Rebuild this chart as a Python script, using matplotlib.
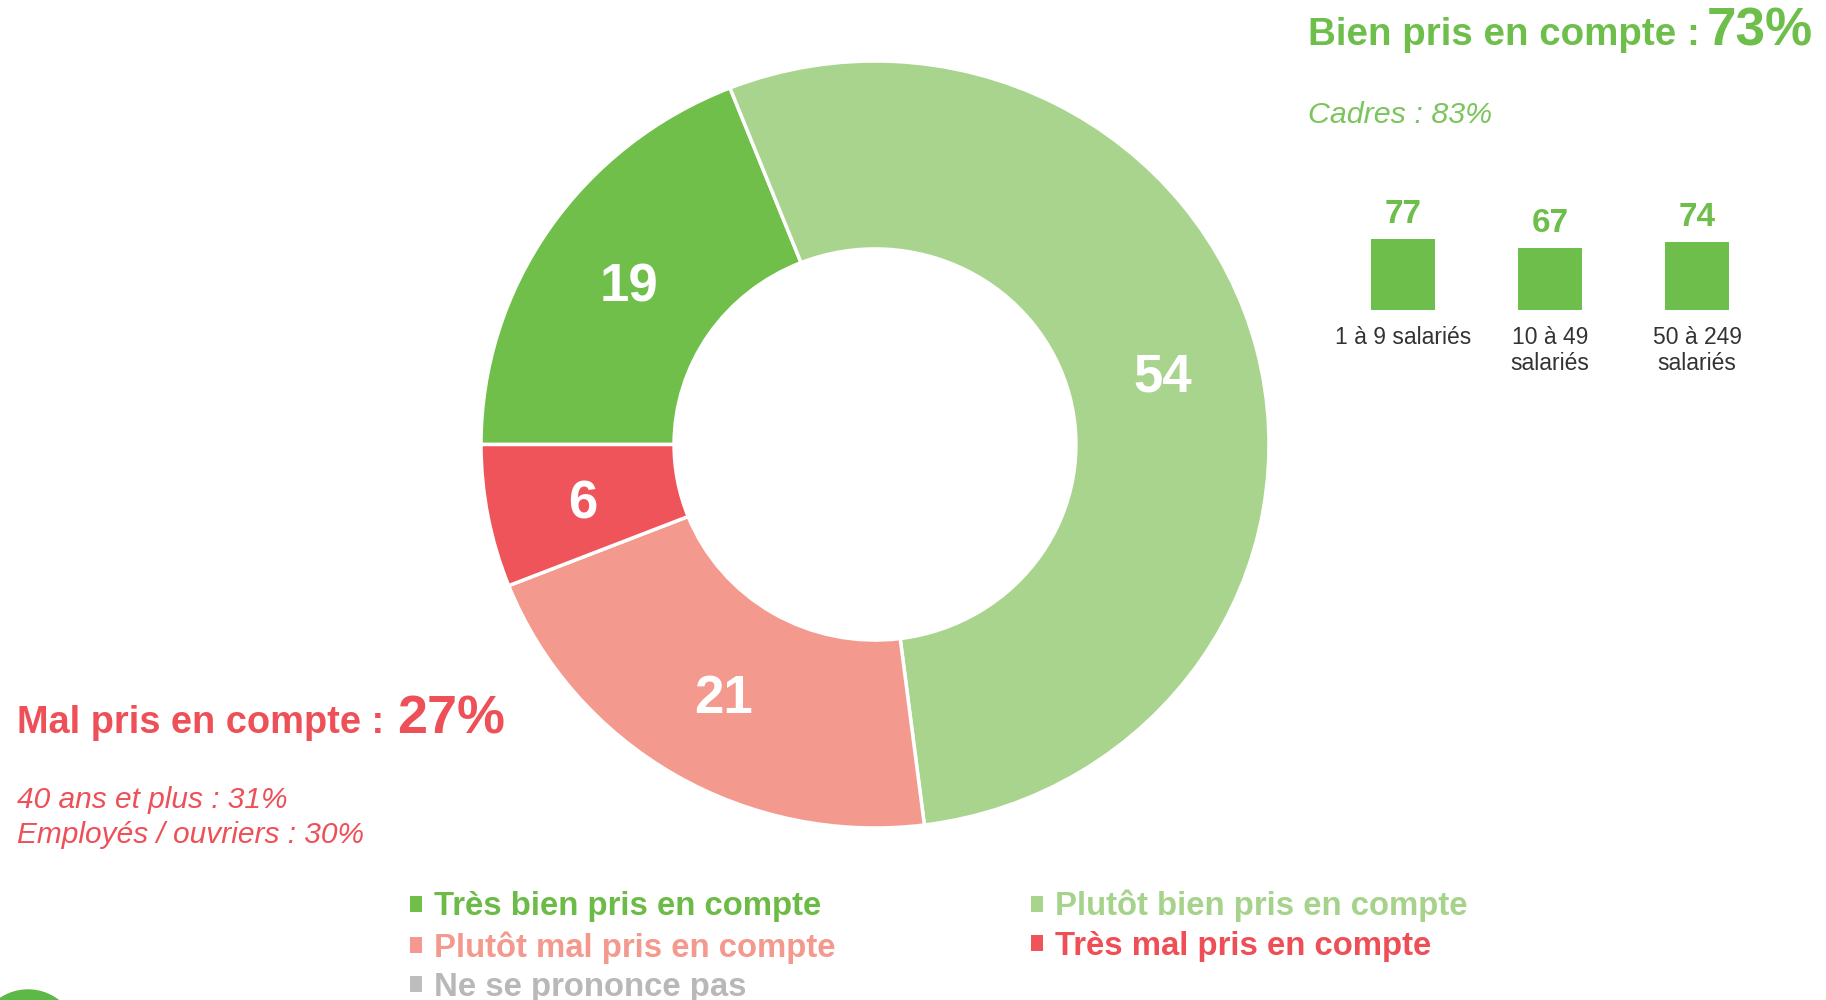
import matplotlib
matplotlib.use('Agg')
import matplotlib.pyplot as plt
from matplotlib.patches import Rectangle, Ellipse

W, H = 1826, 1000

# donut: share of answers (%)
categories = ['Très bien pris en compte', 'Plutôt bien pris en compte',
              'Plutôt mal pris en compte', 'Très mal pris en compte',
              'Ne se prononce pas']
values = [19, 54, 21, 6, 0]
colors = ['#70BF4A', '#A8D48D', '#F4998E', '#EF545A', '#BDBDBD']
text_colors = ['#6DBB47', '#A6D38B', '#F4998E', '#EE4F57', '#B8B8B8']

# "bien pris en compte" by company size
size_labels = ['1 à 9 salariés', '10 à 49\nsalariés', '50 à 249\nsalariés']
size_values = [77, 67, 74]

good_total = 73
bad_total = 27
good_note = 'Cadres : 83%'
bad_notes = ['40 ans et plus : 31%', 'Employés / ouvriers : 30%']

GREEN = '#6DBE4B'
RED = '#EE5058'

plt.rcParams['font.family'] = ['Liberation Sans', 'DejaVu Sans']

def fx(x):
    return x / W

def fy(y):
    return 1 - y / H

fig = plt.figure(figsize=(W / 100, H / 100), dpi=100)

# donut
ax = fig.add_axes([fx(481), fy(828), 788 / W, 767 / H])
pie_vals = [v for v in values if v > 0]
pie_cols = [c for v, c in zip(values, colors) if v > 0]
ax.pie(pie_vals, colors=pie_cols, startangle=180, counterclock=False,
       autopct=lambda p: f'{p:.0f}', pctdistance=0.755,
       wedgeprops=dict(width=0.49, edgecolor='white', linewidth=2.5),
       textprops=dict(color='white', fontsize=38, fontweight='bold',
                      va='center_baseline'))
ax.set_aspect('auto')
ax.set_xlim(-1, 1)
ax.set_ylim(-1, 1)

# small bars by size
step = 147
bax = fig.add_axes([fx(1403 - step / 2), fy(310), 3 * step / W, 92 / H])
x = range(len(size_values))
bax.bar(x, size_values, width=64 / step, color=GREEN)
for i, v in zip(x, size_values):
    bax.annotate(str(v), (i, v), xytext=(0, 11.5), textcoords='offset points',
                 ha='center', va='baseline', fontsize=24, fontweight='bold',
                 color=GREEN)
bax.set_xlim(-0.5, 2.5)
bax.set_ylim(0, 100)
bax.set_xticks(list(x))
bax.set_xticklabels(size_labels, fontsize=16.5, color='#333333', linespacing=1.18)
bax.tick_params(axis='x', length=0, pad=11.5)
bax.set_yticks([])
for s in bax.spines.values():
    s.set_visible(False)
bax.patch.set_visible(False)

# headline texts
fig.text(fx(1308), fy(45), 'Bien pris en compte :', fontsize=27.7,
         fontweight='bold', color=GREEN, va='baseline')
fig.text(fx(1707), fy(45), f'{good_total}%', fontsize=38.2,
         fontweight='bold', color=GREEN, va='baseline')
fig.text(fx(1308), fy(123), good_note, fontsize=21.9, style='italic',
         color='#7CC45C', va='baseline')

fig.text(fx(17), fy(733), 'Mal pris en compte :', fontsize=27.4,
         fontweight='bold', color=RED, va='baseline')
fig.text(fx(397), fy(734), f'{bad_total}%', fontsize=38.8,
         fontweight='bold', color=RED, va='baseline')
for k, note in enumerate(bad_notes):
    fig.text(fx(17), fy(808 + 35 * k), note, fontsize=21.5, style='italic',
             color=RED, va='baseline')

# legend
order = [0, 2, 4, 1, 3]
handles = [Rectangle((0, 0), 1, 1, facecolor=colors[i], edgecolor='none') for i in order]
labels = [categories[i] for i in order]
leg = fig.legend(handles, labels, loc='upper left',
                 bbox_to_anchor=(fx(410), fy(890)), ncol=2, frameon=False,
                 prop=dict(size=23.7, weight='bold'), handlelength=0.36,
                 handleheight=0.36, handletextpad=0.37, columnspacing=5.95,
                 labelspacing=0.26, borderpad=0, borderaxespad=0)
for t, i in zip(leg.get_texts(), order):
    t.set_color(text_colors[i])

# cut-off logo in the corner
fig.patches.append(Ellipse((fx(28), fy(1040)), 100 / W, 100 / H,
                           transform=fig.transFigure, color='#5DB947'))

fig.savefig('out.png', dpi=100)
